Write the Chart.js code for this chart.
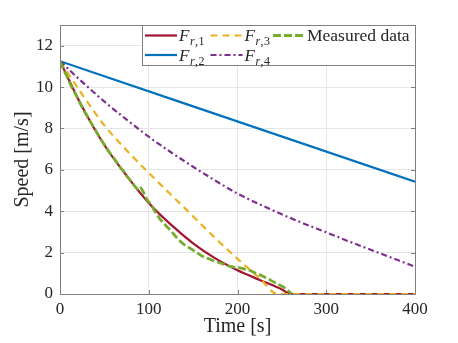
<!DOCTYPE html>
<html>
<head>
<meta charset="utf-8">
<script src="https://cdn.jsdelivr.net/npm/chart.js@4.4.0/dist/chart.umd.min.js"></script>
<style>
  html, body { margin: 0; padding: 0; background: #fff; }
  #grafico { display: block; }
</style>
</head>
<body>
<canvas id="grafico" width="458" height="343"></canvas>
<script>
// Datos
const xTicks = [0, 100, 200, 300, 400]
const yTicks = [0, 2, 4, 6, 8, 10, 12]

const etiquetas = ['F_{r,1}', 'F_{r,2}', 'F_{r,3}', 'F_{r,4}', 'Measured data']

const tFr1 = [0, 25, 50, 75, 100, 125, 150, 175, 200, 225, 250, 260, 400]
const vFr1 = [11.25, 9.05, 7.2, 5.72, 4.4, 3.35, 2.45, 1.72, 1.15, 0.68, 0.22, 0, 0]

const tFr2 = [0, 400]
const vFr2 = [11.25, 5.43]

const tFr3 = [0, 25, 50, 75, 100, 125, 150, 175, 200, 225, 245, 400]
const vFr3 = [11.25, 9.65, 8.15, 6.95, 5.85, 4.8, 3.75, 2.7, 1.7, 0.76, 0, 0]

const tFr4 = [0, 25, 50, 75, 100, 125, 150, 175, 200, 225, 250, 275, 300, 325, 350, 375, 400]
const vFr4 = [11.25, 10.25, 9.3, 8.43, 7.6, 6.85, 6.15, 5.48, 4.85, 4.33, 3.85, 3.4, 2.98, 2.55, 2.14, 1.73, 1.32]

const tMedido = [0, 4, 8, 12, 16, 20, 24, 28, 32, 36, 40, 44, 48, 52, 56, 60, 64, 68, 72, 76, 80, 84, 88, 91, 93, 96, 98, 101, 104, 107, 110, 113, 117, 121, 124, 128, 132, 136, 140, 144, 148, 152, 156, 160, 164, 168, 172, 176, 180, 184, 188, 192, 196, 200, 204, 208, 212, 216, 220, 224, 228, 232, 236, 240, 244, 248, 252, 256, 259, 261]
const vMedido = [11.25, 10.85, 10.5, 10.1, 9.78, 9.45, 9.1, 8.78, 8.5, 8.2, 7.92, 7.62, 7.35, 7.08, 6.82, 6.6, 6.36, 6.12, 5.92, 5.66, 5.45, 5.22, 5.02, 5.12, 5.0, 4.75, 4.55, 4.4, 4.22, 3.98, 3.8, 3.6, 3.42, 3.22, 3.1, 2.9, 2.7, 2.53, 2.38, 2.27, 2.18, 2.05, 1.95, 1.83, 1.75, 1.7, 1.62, 1.58, 1.5, 1.45, 1.38, 1.33, 1.3, 1.3, 1.25, 1.2, 1.17, 1.1, 1.02, 0.95, 0.87, 0.78, 0.7, 0.6, 0.52, 0.42, 0.33, 0.2, 0.08, 0]

// Colores estilo MATLAB
const colores = ['#A2142F', '#0072BD', '#EDB120', '#7E2F8E', '#77AC30']
const colorEje = '#808080'
const colorTexto = '#262626'
const fuente = "'Liberation Serif', 'Times New Roman', serif"

function puntos(ts, vs) {
    return ts.map((t, i) => ({ x: t, y: vs[i] }))
}

// Caja y marcas hacia adentro (estilo MATLAB)
const cajaEjes = {
    id: 'cajaEjes',
    beforeDatasetsDraw(chart) {
        const { ctx, chartArea: a, scales } = chart
        ctx.save()
        ctx.strokeStyle = colorEje
        ctx.lineWidth = 1
        ctx.beginPath()
        ctx.rect(a.left + 0.5, a.top + 0.5, a.right - a.left, a.bottom - a.top)
        ctx.stroke()
        const largo = 4
        ctx.beginPath()
        xTicks.forEach(v => {
            const x = Math.round(scales.x.getPixelForValue(v)) + 0.5
            ctx.moveTo(x, a.bottom); ctx.lineTo(x, a.bottom - largo)
            ctx.moveTo(x, a.top); ctx.lineTo(x, a.top + largo)
        })
        yTicks.forEach(v => {
            const y = Math.round(scales.y.getPixelForValue(v)) + 0.5
            ctx.moveTo(a.left, y); ctx.lineTo(a.left + largo, y)
            ctx.moveTo(a.right, y); ctx.lineTo(a.right - largo, y)
        })
        ctx.stroke()
        ctx.restore()
    }
}

// Leyenda propia con subindices, llenado por columnas (2 filas)
function dibujarEtiqueta(ctx, texto, x, y) {
    const m = texto.match(/^(.*)_\{(.*)\}$/)
    if (!m) {
        ctx.font = '17.5px ' + fuente
        ctx.fillText(texto, x, y)
        return
    }
    ctx.font = 'italic 17px ' + fuente
    ctx.fillText(m[1], x, y)
    let ancho = ctx.measureText(m[1]).width + 0.5
    for (const c of m[2]) {
        ctx.font = (/[a-z]/i.test(c) ? 'italic ' : '') + '12px ' + fuente
        ctx.fillText(c, x + ancho, y + 4)
        ancho += ctx.measureText(c).width + 0.5
    }
}

const leyenda = {
    id: 'leyenda',
    afterDatasetsDraw(chart) {
        const { ctx, chartArea: a } = chart
        const filas = 2
        const largoLinea = 32
        const columnas = [3, 68.5, 131]
        const x0 = a.right - 273
        const y0 = a.top
        const ancho = 274
        const alto = 41
        ctx.save()
        ctx.fillStyle = '#fff'
        ctx.fillRect(x0, y0, ancho, alto)
        ctx.strokeStyle = colorEje
        ctx.lineWidth = 1
        ctx.strokeRect(x0 + 0.5, y0 + 0.5, ancho - 1, alto - 1)

        chart.data.datasets.forEach((d, i) => {
            const xCol = x0 + columnas[Math.floor(i / filas)]
            const y = y0 + 10.5 + (i % filas) * 19.5
            ctx.strokeStyle = d.borderColor
            ctx.lineWidth = d.borderWidth
            ctx.setLineDash(d.borderDash || [])
            ctx.beginPath()
            ctx.moveTo(xCol, y); ctx.lineTo(xCol + largoLinea, y)
            ctx.stroke()
            ctx.setLineDash([])
            ctx.fillStyle = colorTexto
            ctx.textBaseline = 'alphabetic'
            ctx.textAlign = 'left'
            dibujarEtiqueta(ctx, d.label, xCol + largoLinea + 2, y + 5.5)
        })
        ctx.restore()
    }
}

const estilos = [
    { dash: [], ancho: 2.2, orden: 5 },
    { dash: [], ancho: 2.2, orden: 4 },
    { dash: [7, 5], ancho: 2.2, orden: 3 },
    { dash: [6, 3, 2, 3], ancho: 2.2, orden: 2 },
    { dash: [8, 3], ancho: 2.8, orden: 1 }
]
const series = [
    puntos(tFr1, vFr1),
    puntos(tFr2, vFr2),
    puntos(tFr3, vFr3),
    puntos(tFr4, vFr4),
    puntos(tMedido, vMedido)
]

const contexto = document.querySelector('#grafico').getContext('2d')
const grafico = new Chart(contexto, {
    type: 'line',
    data: {
        datasets: series.map((d, i) => ({
            label: etiquetas[i],
            data: d,
            borderColor: colores[i],
            backgroundColor: colores[i],
            borderWidth: estilos[i].ancho,
            borderDash: estilos[i].dash,
            order: estilos[i].orden,
            pointRadius: 0,
            fill: false,
            cubicInterpolationMode: i === 4 ? 'default' : 'monotone',
            tension: i === 4 ? 0 : 0.4
        }))
    },
    options: {
        responsive: false,
        animation: false,
        layout: { padding: { left: 0, top: 25, right: 43, bottom: 0 } },
        plugins: {
            legend: { display: false },
            tooltip: { enabled: false },
            title: { display: false }
        },
        scales: {
            x: {
                type: 'linear',
                min: 0,
                max: 400,
                afterBuildTicks: s => { s.ticks = xTicks.map(v => ({ value: v })) },
                afterFit: s => { s.height = 49 },
                grid: { color: '#e6e6e6', drawTicks: false },
                border: { display: false },
                ticks: { color: colorTexto, padding: 5, font: { family: fuente, size: 17 } },
                title: {
                    display: true, text: 'Time [s]', color: colorTexto,
                    font: { family: fuente, size: 20, lineHeight: 1.2 },
                    padding: { top: 0, bottom: 4 }
                }
            },
            y: {
                min: 0,
                max: 13,
                afterBuildTicks: s => { s.ticks = yTicks.map(v => ({ value: v })) },
                afterFit: s => { s.width = 60 },
                grid: { color: '#e6e6e6', drawTicks: false },
                border: { display: false },
                ticks: { color: colorTexto, padding: 7, font: { family: fuente, size: 17 } },
                title: {
                    display: true, text: 'Speed [m/s]', color: colorTexto,
                    font: { family: fuente, size: 20, lineHeight: 1.2 },
                    padding: { top: 11, bottom: 0 }
                }
            }
        }
    },
    plugins: [cajaEjes, leyenda]
})
</script>
</body>
</html>
